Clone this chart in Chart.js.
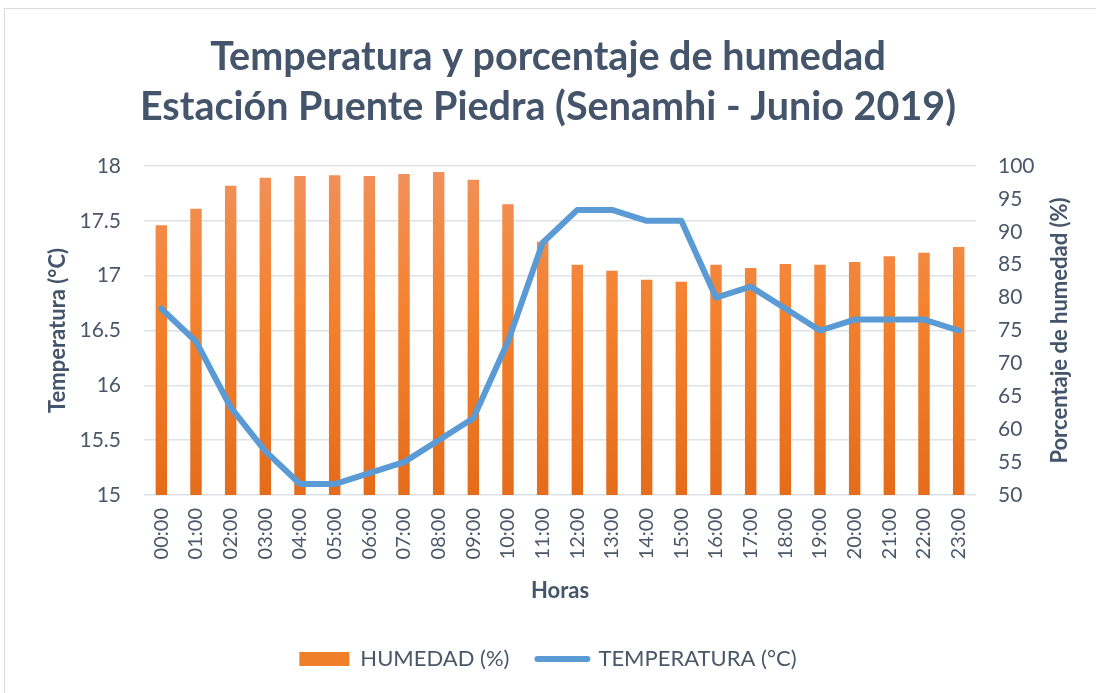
<!DOCTYPE html>
<html>
<head>
<meta charset="utf-8">
<script src="https://cdn.jsdelivr.net/npm/chart.js@4/dist/chart.umd.min.js"></script>
<style>
  html, body { margin: 0; padding: 0; background: #ffffff; }
  #wrap { position: relative; width: 1096px; height: 693px; overflow: hidden; }
  #frame { position: absolute; left: 4px; top: 8px; width: 1100px; height: 700px; border: 1px solid #d9d9d9; pointer-events: none; box-sizing: border-box; }
  canvas { position: absolute; left: 0; top: 0; }
</style>
</head>
<body>
<div id="wrap">
  <canvas id="c" width="1096" height="693"></canvas>
  <div id="frame"></div>
</div>
<script>
const hours = ["00:00","01:00","02:00","03:00","04:00","05:00","06:00","07:00","08:00","09:00","10:00","11:00",
               "12:00","13:00","14:00","15:00","16:00","17:00","18:00","19:00","20:00","21:00","22:00","23:00"];
const humidity = [91.0, 93.5, 97.0, 98.2, 98.5, 98.6, 98.5, 98.8, 99.1, 97.9, 94.2, 88.5,
                  85.0, 84.1, 82.7, 82.4, 85.0, 84.5, 85.1, 85.0, 85.4, 86.3, 86.8, 87.7];
const temperature = [16.7, 16.4, 15.8, 15.4, 15.1, 15.1, 15.2, 15.3, 15.5, 15.7, 16.4, 17.3,
                     17.6, 17.6, 17.5, 17.5, 16.8, 16.9, 16.7, 16.5, 16.6, 16.6, 16.6, 16.5];
const titleLines = ["Temperatura y porcentaje de humedad", "Estación Puente Piedra (Senamhi - Junio 2019)"];
const xTitle = "Horas";
const yLeftTitle = "Temperatura (°C)";
const yRightTitle = "Porcentaje de humedad (%)";
const humLabel = "HUMEDAD (%)";
const tempLabel = "TEMPERATURA (°C)";

const textColor = "#44546a";
const tickColor = "#495769";
const gridColor = "#dde2e8";
const FONT = "Lato, 'Open Sans', sans-serif";

function barGradient(ctx) {
  const chart = ctx.chart;
  const area = chart.chartArea;
  if (!area) return "#f07f2c";
  const g = chart.ctx.createLinearGradient(0, area.top, 0, area.bottom);
  g.addColorStop(0, "#f0915b");
  g.addColorStop(0.45, "#f4812e");
  g.addColorStop(1, "#e46c1b");
  return g;
}

const rightTitlePlugin = {
  id: "rightTitle",
  afterDraw(chart) {
    const s = chart.scales.y1;
    const c = chart.ctx;
    c.save();
    c.translate(1060, (s.top + s.bottom) / 2);
    c.rotate(-Math.PI / 2);
    c.font = "bold 22px " + FONT;
    c.fillStyle = textColor;
    c.textAlign = "center";
    c.textBaseline = "middle";
    c.fillText(yRightTitle, 0, 0);
    c.restore();
  }
};

new Chart(document.getElementById("c"), {
  data: {
    labels: hours,
    datasets: [
      {
        type: "line",
        label: tempLabel,
        data: temperature,
        yAxisID: "y",
        borderColor: "#5b9bd5",
        backgroundColor: "#5b9bd5",
        borderWidth: 6,
        borderJoinStyle: "round",
        borderCapStyle: "round",
        pointRadius: 0,
        pointHoverRadius: 0,
        tension: 0,
        order: 1
      },
      {
        type: "bar",
        label: humLabel,
        data: humidity,
        yAxisID: "y1",
        backgroundColor: barGradient,
        borderWidth: 0,
        categoryPercentage: 1.0,
        barPercentage: 0.33,
        order: 2
      }
    ]
  },
  options: {
    responsive: false,
    animation: false,
    devicePixelRatio: 1,
    layout: { padding: { left: 0, right: 0, top: 0, bottom: 13 } },
    plugins: {
      tooltip: { enabled: false },
      title: {
        display: true,
        text: titleLines,
        color: textColor,
        font: { family: FONT, size: 39.5, weight: "bold", lineHeight: 1.266 },
        padding: { top: 32, bottom: 34 }
      },
      legend: {
        position: "bottom",
        labels: {
          color: tickColor,
          font: { family: FONT, size: 22 },
          usePointStyle: true,
          pointStyleWidth: 50,
          boxHeight: 14,
          padding: 28,
          generateLabels(chart) {
            return [
              { text: humLabel, fillStyle: "#f07f2c", strokeStyle: "#f07f2c", lineWidth: 0, pointStyle: "rect", datasetIndex: 1, fontColor: tickColor },
              { text: tempLabel, fillStyle: "#5b9bd5", strokeStyle: "#5b9bd5", lineWidth: 6, lineCap: "round", pointStyle: "line", datasetIndex: 0, fontColor: tickColor }
            ];
          }
        }
      }
    },
    scales: {
      x: {
        grid: { display: false, drawTicks: false },
        border: { display: false },
        ticks: { color: tickColor, font: { family: FONT, size: 20 }, maxRotation: 90, minRotation: 90, padding: 13, autoSkip: false },
        title: { display: true, text: xTitle, color: textColor, font: { family: FONT, size: 22, weight: "bold" }, padding: { top: 0, bottom: 16 } },
        afterFit(scale) { scale.height = 125; }
      },
      y: {
        position: "left",
        min: 15, max: 18,
        ticks: { stepSize: 0.5, color: tickColor, font: { family: FONT, size: 21 }, padding: 23, callback: (v) => String(v) },
        grid: { color: gridColor, lineWidth: 1.5, drawTicks: false },
        border: { display: false },
        title: { display: true, text: yLeftTitle, color: textColor, font: { family: FONT, size: 22, weight: "bold" }, padding: { top: 45, bottom: 0 } },
        afterFit(scale) { scale.width = 144; }
      },
      y1: {
        position: "right",
        min: 50, max: 100,
        ticks: { stepSize: 5, color: tickColor, font: { family: FONT, size: 21 }, padding: 22, callback: (v) => String(v) },
        grid: { display: false, drawTicks: false },
        border: { display: false },
        afterFit(scale) { scale.width = 120; }
      }
    }
  },
  plugins: [rightTitlePlugin]
});
</script>
</body>
</html>
